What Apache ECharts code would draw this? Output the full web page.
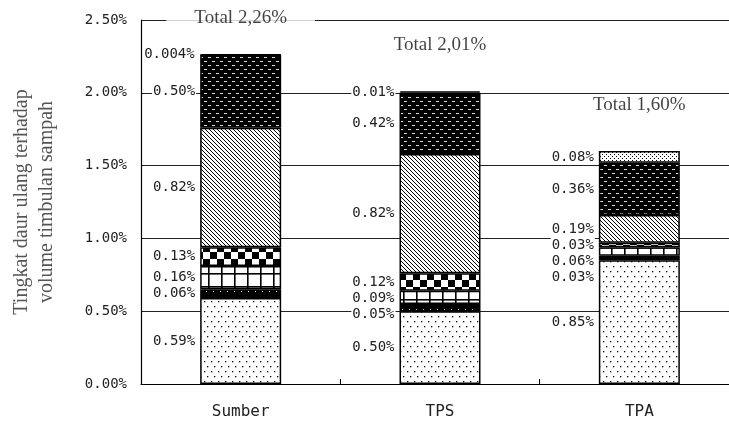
<!DOCTYPE html>
<html>
<head>
<meta charset="utf-8">
<script src="https://cdn.jsdelivr.net/npm/echarts@6/dist/echarts.min.js"></script>
<style>html,body{margin:0;padding:0;background:#fff;overflow:hidden;width:729px;height:427px}#c{width:739px;height:427px}</style>
</head>
<body>
<div id="c"></div>
<script>
const categories = ['Sumber', 'TPS', 'TPA'];
const seriesDotted = [0.59, 0.50, 0.85];
const seriesBlack = [0.06, 0.05, 0.03];
const seriesGrid = [0.16, 0.09, 0.06];
const seriesChecker = [0.13, 0.12, 0.03];
const seriesDiagonal = [0.82, 0.82, 0.19];
const seriesDark = [0.50, 0.42, 0.36];
const seriesLight = [0.004, 0.01, 0.08];
const totals = [2.26, 2.01, 1.60];
const yTicks = [0, 0.5, 1.0, 1.5, 2.0, 2.5];

function pat(w, h, bg, draw) {
  const c = document.createElement('canvas');
  c.width = w; c.height = h;
  const g = c.getContext('2d');
  g.fillStyle = bg; g.fillRect(0, 0, w, h);
  draw(g);
  return { image: c, repeat: 'repeat' };
}
const patterns = [
  pat(14, 10, '#fff', g => { g.fillStyle = '#000'; [[1,1],[8,1],[4,6],[11,6]].forEach(p => g.fillRect(p[0], p[1], 1.3, 1.3)); }),
  pat(7, 9, '#000', g => { g.fillStyle = '#fff'; g.fillRect(3, 3, 1, 1); }),
  pat(13, 13, '#fff', g => { g.fillStyle = '#000'; g.fillRect(0, 0, 13, 1.6); g.fillRect(0, 0, 1.6, 13); }),
  pat(14, 14, '#fff', g => { g.fillStyle = '#000'; g.fillRect(0, 0, 7, 7); g.fillRect(7, 7, 7, 7); }),
  pat(4, 4, '#fff', g => { g.fillStyle = '#000'; for (let i = 0; i < 4; i++) g.fillRect(i, i, 1, 1); }),
  pat(8, 8, '#000', g => { g.fillStyle = '#ddd'; g.fillRect(0, 1, 3, 1); g.fillRect(4, 5, 3, 1); }),
  pat(4, 4, '#fff', g => { g.fillStyle = '#000'; g.fillRect(0, 0, 1, 1); g.fillRect(2, 2, 1, 1); })
];

const stackData = [seriesDotted, seriesBlack, seriesGrid, seriesChecker, seriesDiagonal, seriesDark, seriesLight];

function fmtVal(v) {
  return (v < 0.01 ? v.toFixed(3) : v.toFixed(2)) + '%';
}

const chart = echarts.init(document.getElementById('c'));

function buildOption(offsets, totalDist) {
  const barSeries = stackData.map((d, i) => ({
    type: 'bar',
    stack: 'all',
    data: d.map((v, j) => ({ value: v, label: { offset: [0, offsets ? offsets[i][j] : 0] } })),
    barWidth: 81,
    itemStyle: { color: patterns[i], borderColor: '#000', borderWidth: 1.5 },
    label: {
      show: true,
      position: 'left',
      distance: 4,
      formatter: p => fmtVal(p.value),
      fontFamily: 'DejaVu Sans Mono',
      fontSize: 14,
      color: '#222',
      backgroundColor: '#fff',
      padding: [1, 1]
    },
    emphasis: { disabled: true }
  }));
  const totalSeries = {
    type: 'scatter',
    data: totals.map((v, j) => ({ value: v, label: { distance: totalDist ? totalDist[j] : 36 } })),
    symbolSize: 0,
    label: {
      show: true,
      position: 'top',
      formatter: p => 'Total ' + p.value.toFixed(2).replace('.', ',') + '%',
      fontFamily: 'Liberation Serif',
      fontSize: 19,
      lineHeight: 20,
      color: '#111',
      backgroundColor: '#fff',
      padding: [0, 28]
    },
    z: 5
  };
  return {
    animation: false,
    grid: { left: 141, right: 0, top: 20, bottom: 43 },
    xAxis: {
      type: 'category',
      data: categories,
      axisLine: { lineStyle: { color: '#000', width: 1.2 } },
      axisTick: { show: true, inside: true, length: 5, lineStyle: { color: '#000' } },
      axisLabel: { fontFamily: 'DejaVu Sans Mono', fontSize: 16, color: '#222', margin: 20 }
    },
    yAxis: {
      type: 'value',
      min: yTicks[0],
      max: yTicks[yTicks.length - 1],
      interval: 0.5,
      name: 'Tingkat daur ulang terhadap\nvolume timbulan sampah',
      nameLocation: 'middle',
      nameRotate: 90,
      nameGap: 82,
      nameTextStyle: { fontFamily: 'Liberation Serif', fontSize: 20, color: '#555', lineHeight: 25 },
      axisLine: { show: true, lineStyle: { color: '#000', width: 1.2 } },
      axisTick: { show: false },
      axisLabel: { formatter: v => v.toFixed(2) + '%', fontFamily: 'DejaVu Sans Mono', fontSize: 14, color: '#222', margin: 14 },
      splitLine: { show: true, lineStyle: { color: '#222', width: 1 } }
    },
    series: barSeries.concat([totalSeries])
  };
}

chart.setOption(buildOption(null, null));

const toPx = (j, v) => chart.convertToPixel({ xAxisIndex: 0, yAxisIndex: 0 }, [j, v])[1];

// spread labels top-down per category so they do not overlap
const minGap = 16;
const offsets = stackData.map(() => categories.map(() => 0));
categories.forEach((cat, j) => {
  let cum = 0;
  const centers = stackData.map((d) => {
    const lo = cum; cum += d[j];
    return toPx(j, (lo + cum) / 2);
  });
  let prev = -Infinity;
  for (let i = stackData.length - 1; i >= 0; i--) {
    const y = Math.max(centers[i], prev + minGap);
    offsets[i][j] = y - centers[i];
    prev = y;
  }
});
// keep total labels inside the chart's top edge
const totalDist = totals.map((v, j) => Math.min(36, toPx(j, v) - 28));
chart.setOption(buildOption(offsets, totalDist));
</script>
</body>
</html>
